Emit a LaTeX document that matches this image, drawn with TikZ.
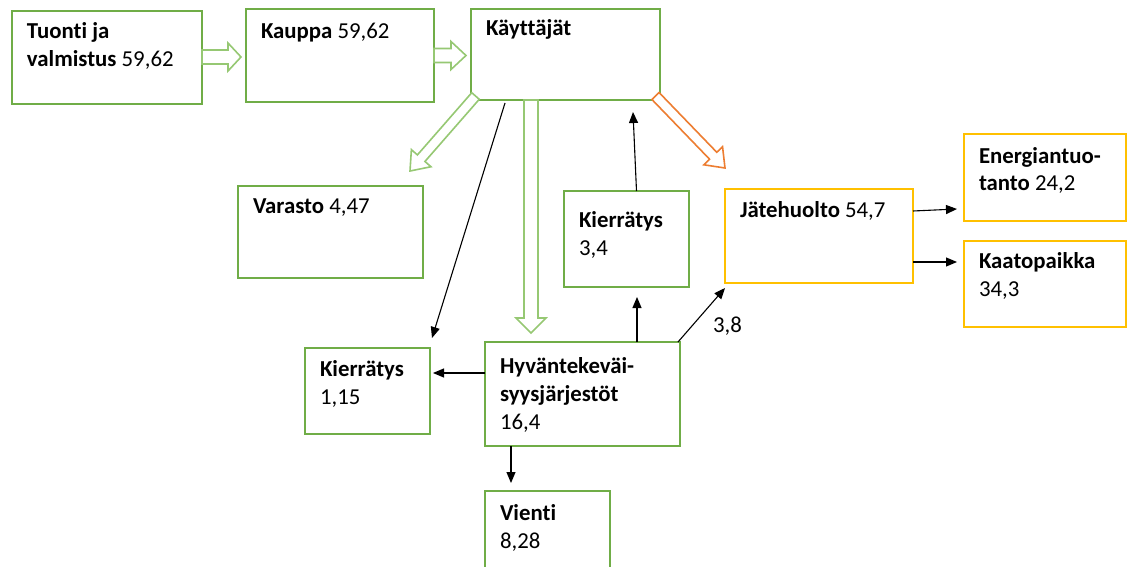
\documentclass[tikz,border=0pt]{standalone}
\usepackage{fontspec}
\setmainfont{Carlito}[Ligatures=NoCommon]
\usetikzlibrary{calc,arrows.meta}
\definecolor{gr}{RGB}{112,173,71}
\definecolor{grl}{RGB}{150,200,115}
\definecolor{orng}{RGB}{237,125,49}
\definecolor{yel}{RGB}{255,192,0}
\tikzset{
 gbox/.style={draw=gr, line width=1.4pt, rectangle, inner sep=0pt, outer sep=0pt, anchor=north west},
 ybox/.style={gbox, draw=yel},
 txt/.style={anchor=north west, inner sep=0pt, outer sep=0pt, align=left, font=\fontsize{22.8}{28}\selectfont},
 conn/.style={draw=black, line width=1.1pt, -{Triangle[length=11pt,width=9pt]}},
 hollow/.style={draw=grl, line width=1.6pt, fill=white, line join=miter},
 hollowor/.style={hollow, draw=orng},
}
\newcommand\blockarrow[6]{%
 \coordinate (ba-a) at (#2); \coordinate (ba-b) at (#3);
 \coordinate (ba-h) at ($(ba-b)!#6pt!(ba-a)$);
 \draw[#1] ($(ba-a)!#4pt!90:(ba-b)$) -- ($(ba-h)!#4pt!90:(ba-b)$) -- ($(ba-h)!#5pt!90:(ba-b)$) -- (ba-b) -- ($(ba-h)!#5pt!-90:(ba-b)$) -- ($(ba-h)!#4pt!-90:(ba-b)$) -- ($(ba-a)!#4pt!-90:(ba-b)$) -- cycle;}
\newcommand\sr{\rule{0pt}{18pt}}
\begin{document}
\begin{tikzpicture}[x=1pt,y=-1pt]
\clip (0,0) rectangle (1128,567);
\fill[white] (0,0) rectangle (1128,567);
% boxes
\node[gbox, minimum width=190pt, minimum height=93pt] (tuonti) at (12,11) {};
\node[gbox, minimum width=188pt, minimum height=93pt] (kauppa) at (246,9) {};
\node[gbox, minimum width=189pt, minimum height=91pt] (kayt) at (471,9) {};
\node[gbox, minimum width=185pt, minimum height=92pt] (varasto) at (238,186) {};
\node[gbox, minimum width=125pt, minimum height=96pt] (kierM) at (564,191) {};
\node[ybox, minimum width=188pt, minimum height=94pt] (jate) at (725,189) {};
\node[ybox, minimum width=162pt, minimum height=87pt] (energia) at (964,134) {};
\node[ybox, minimum width=162pt, minimum height=86pt] (kaato) at (964,241) {};
\node[gbox, minimum width=125pt, minimum height=86pt] (kierL) at (305,348) {};
\node[gbox, minimum width=195pt, minimum height=104pt] (hyv) at (485,342) {};
\node[gbox, minimum width=125pt, minimum height=90pt] (vienti) at (485,491) {};
% texts
\node[txt] (t-tuonti) at ($(tuonti.north west)+(15,10)$) {\sr\textbf{Tuonti ja}\\\textbf{valmistus} 59,62};
\node[txt] (t-kauppa) at ($(kauppa.north west)+(15,12)$) {\sr\textbf{Kauppa} 59,62};
\node[txt] (t-kayt) at ($(kayt.north west)+(15,9)$) {\sr\textbf{Käyttäjät}};
\node[txt] (t-varasto) at ($(varasto.north west)+(15,10)$) {\sr\textbf{Varasto} 4,47};
\node[txt] (t-kierM) at ($(kierM.north west)+(15,18)$) {\sr\textbf{Kierrätys}\\3,4};
\node[txt] (t-jate) at ($(jate.north west)+(15,11)$) {\sr\textbf{Jätehuolto} 54,7};
\node[txt] (t-energia) at ($(energia.north west)+(15,11)$) {\sr\textbf{Energiantuo-}\\\textbf{tanto} 24,2};
\node[txt] (t-kaato) at ($(kaato.north west)+(15,9)$) {\sr\textbf{Kaatopaikka}\\34,3};
\node[txt] (t-kierL) at ($(kierL.north west)+(15,10)$) {\sr\textbf{Kierrätys}\\1,15};
\node[txt] (t-hyv) at ($(hyv.north west)+(15,13)$) {\sr\textbf{Hyväntekeväi-}\\\textbf{syysjärjestöt}\\16,4};
\node[txt] (t-vienti) at ($(vienti.north west)+(15,11)$) {\sr\textbf{Vienti}\\8,28};
\node[txt] (lbl38) at (713,314) {\sr 3,8};
% block arrows
\blockarrow{hollow}{$(tuonti.east)+(0,-0.5)$}{$(kauppa.west |- tuonti.east)+(-5,-0.5)$}{7}{14}{13}
\blockarrow{hollow}{kauppa.east}{$(kayt.west |- kauppa.east)+(-5,0)$}{7}{14}{15}
\blockarrow{hollow}{$(kayt.south west)+(4.5,-4)$}{$(varasto.north east)+(-13,-15)$}{5}{13}{17}
\blockarrow{hollow}{$(kayt.south west)+(60,0)$}{$(hyv.north west)+(46,-9)$}{7}{15}{15}
\blockarrow{hollowor}{$(kayt.south east)+(-4.5,-4)$}{$(jate.north west)+(0,-21)$}{5}{13}{17}
% thin arrows
\draw[conn] ($(kayt.south west)+(34,3)$) -- ($(kierL.north east)+(2,-10)$);
\draw[conn] ($(kierM.north)+(10,0)$) -- ($(kayt.south east)+(-27,12)$);
\draw[conn] ($(hyv.north west)+(152,0)$) -- ($(kierM.south)+(10.5,10)$);
\draw[conn] ($(hyv.north east)+(-2,0)$) -- ($(jate.south west)+(0,5)$);
\draw[conn] ($(hyv.west)+(0,-21)$) -- ($(kierL.north east)+(3,25)$);
\draw[conn] ($(hyv.south west)+(26,0)$) -- ($(vienti.north west)+(26,-8)$);
\draw[conn] ($(jate.north east)+(0,22)$) -- ($(energia.south west)+(-7,-12)$);
\draw[conn] ($(jate.south east)+(0,-21)$) -- ($(kaato.north west)+(-7,21)$);
\end{tikzpicture}
\end{document}
